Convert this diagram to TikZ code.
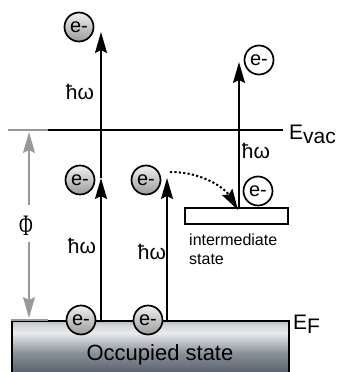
\documentclass[tikz,border=0pt]{standalone}
\usepackage{fontspec}
\setmainfont{Liberation Sans}
\newfontfamily\phifont{Liberation Serif}
\usepackage{graphicx}
\usetikzlibrary{arrows.meta}

\definecolor{metaltop}{RGB}{180,186,192}
\definecolor{metalmid}{RGB}{232,235,238}
\definecolor{metalbot}{RGB}{84,94,104}
\pgfdeclareverticalshading{metal}{100bp}{color(0bp)=(metalbot); color(25bp)=(metalbot); color(45bp)=(metalbot!65!metalmid); color(64bp)=(metalmid); color(72bp)=(metaltop!50!metalmid); color(75bp)=(metaltop); color(100bp)=(metaltop)}

\begin{document}
\begin{tikzpicture}[
  x=1pt, y=-1pt,
  font=\fontsize{20}{20}\selectfont,
  level/.style={line width=1.8pt},
  photon/.style={line width=1.8pt, -{Stealth[length=21pt,width=12pt,inset=3pt]}},
  gauge/.style={line width=1.8pt, draw=gray!80, -{Stealth[length=21pt,width=12pt,inset=3pt]}},
  hop/.style={line width=2pt, dash pattern=on 2.2pt off 2.2pt, -{Stealth[length=21pt,width=12pt,inset=3pt]}},
  elec/.style={
    circle, draw, line width=1.7pt,
    minimum size=29pt, inner sep=0pt,
    top color=gray!12, bottom color=gray!78
  },
  freeelec/.style={
    circle, draw, line width=1.7pt,
    minimum size=29pt, inner sep=0pt, fill=white
  },
  hw/.style={font=\fontsize{21}{21}\selectfont, inner sep=0pt}
]
\useasboundingbox (0,0) rectangle (339,372);

% occupied band and levels
\node[draw, line width=1.8pt, shading=metal, minimum width=277pt, minimum height=54pt,
  inner sep=0pt, anchor=north west] (occ) at (11,320) {};
\node[anchor=base, font=\fontsize{22}{22}\selectfont] (occlbl) at (160,360) {Occupied state};
\draw[level, gray!80] (occ.north west) -- ++(37,0);

\coordinate (vacL) at (8,130);
\coordinate (vacR) at (283,130);
\draw[level] (vacL) -- (vacR);
\draw[level, gray!80] (vacL) -- ++(40,0);
\node[anchor=base west, inner sep=0pt, font=\fontsize{21}{21}\selectfont] (evac) at (289,139)
  {E\raisebox{-4pt}{vac}};
\node[anchor=base west, inner sep=0pt, font=\fontsize{21}{21}\selectfont] (ef) at (293,329) {E\raisebox{-4pt}{F}};

\node[draw, line width=1.8pt, minimum width=103pt, minimum height=16pt, inner sep=0pt] (inter) at (236.5,216) {};
\node[anchor=north west, align=left, inner sep=0pt, font=\fontsize{16}{19}\selectfont] (interlbl) at (189,234)
  {intermediate\\state};

% electrons
\node[elec] (eT) at (79,27) {e-};
\node[elec] (eM1) at (80,180) {e-};
\node[elec] (eM2) at (146,180) {e-};
\node[elec] (eF1) at (81,320) {e-};
\node[elec] (eF2) at (148,320) {e-};
\node[freeelec] (eR1) at (259,60) {e-};
\node[freeelec] (eR2) at (258,191) {e-};

% excitations
\coordinate (f1) at (101,320);
\coordinate (m1) at (101,178);
\coordinate (t1) at (101,32);
\coordinate (f2) at (167,320);
\coordinate (m2) at (167,178);
\coordinate (r0) at (239,208);
\coordinate (r1) at (239,62);
\draw[photon] (f1) -- (m1);
\draw[photon] (m1) -- (t1);
\draw[photon] (f2) -- (m2);
\draw[photon] (r0) -- (r1);

\coordinate (hopA) at (170,172);
\coordinate (hopB) at (238,210);
\draw[hop] (hopA) .. controls (205,172) and (226,190) .. (hopB);

\node[hw] (hw1) at (80,92) {ħω};
\node[hw] (hw2) at (82,246) {ħω};
\node[hw] (hw3) at (152,252) {ħω};
\node[hw] (hw4) at (256,151) {ħω};

% work function
\node[inner sep=0pt, font=\fontsize{22}{22}\phifont] (phi) at (26,226) {\scalebox{0.85}[1.35]{Φ}};
\coordinate (phiT) at (29,132);
\coordinate (phiB) at (29,318);
\coordinate (phiU) at (29,205);
\coordinate (phiD) at (29,242);
\draw[gauge] (phiU) -- (phiT);
\draw[gauge] (phiD) -- (phiB);
\end{tikzpicture}
\end{document}
